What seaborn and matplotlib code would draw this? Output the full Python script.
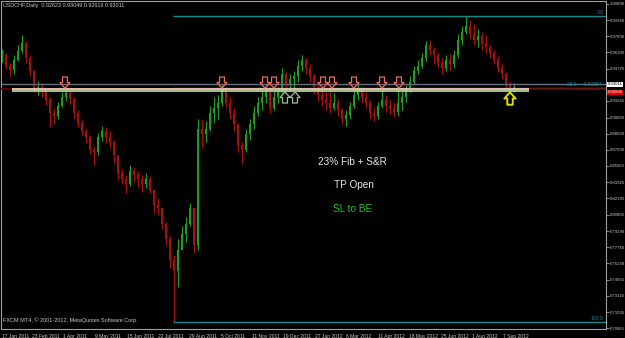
import numpy as np
import pandas as pd
import matplotlib
matplotlib.use("Agg")
import matplotlib.pyplot as plt
import seaborn as sns
from matplotlib.path import Path

# ---------------- data ----------------
first_open = 0.9560
closes = [0.9600, 0.9500, 0.9460, 0.9560, 0.9640, 0.9720, 0.9580, 0.9450, 0.9280, 0.9300,
          0.9280, 0.9180, 0.9050, 0.9020, 0.9120, 0.9200, 0.9240, 0.9190, 0.9050, 0.8960,
          0.8880, 0.8820, 0.8700, 0.8680, 0.8820, 0.8880, 0.8820, 0.8780, 0.8650, 0.8480,
          0.8420, 0.8380, 0.8500, 0.8460, 0.8420, 0.8380, 0.8420, 0.8320, 0.8180, 0.8150,
          0.8000, 0.7850, 0.7650, 0.7550, 0.7750, 0.7900, 0.8000, 0.8150, 0.7800, 0.8900,
          0.8850, 0.8900, 0.9050, 0.9100, 0.9150, 0.9280, 0.9150, 0.9050, 0.8950, 0.8750,
          0.8700, 0.8850, 0.8950, 0.9050, 0.9150, 0.9200, 0.9250, 0.9100, 0.9200, 0.9250,
          0.9420, 0.9330, 0.9380, 0.9400, 0.9500, 0.9560, 0.9480, 0.9400, 0.9300, 0.9220,
          0.9180, 0.9150, 0.9100, 0.9150, 0.9080, 0.9000, 0.9030, 0.9120, 0.9220, 0.9280,
          0.9200, 0.9150, 0.9050, 0.9020, 0.9120, 0.9180, 0.9120, 0.9100, 0.9060, 0.9150,
          0.9200, 0.9280, 0.9350, 0.9450, 0.9500, 0.9580, 0.9700, 0.9650, 0.9600, 0.9530,
          0.9480, 0.9560, 0.9520, 0.9600, 0.9750, 0.9820, 0.9880, 0.9800, 0.9750, 0.9780,
          0.9720, 0.9680, 0.9620, 0.9560, 0.9480, 0.9420, 0.9320, 0.9270, 0.9301]
highs = [0.9660, 0.9620, 0.9530, 0.9600, 0.9700, 0.9790, 0.9740, 0.9600, 0.9460, 0.9360,
         0.9340, 0.9300, 0.9200, 0.9100, 0.9160, 0.9250, 0.9300, 0.9280, 0.9200, 0.9080,
         0.8990, 0.8900, 0.8840, 0.8740, 0.8860, 0.8930, 0.8920, 0.8880, 0.8800, 0.8640,
         0.8520, 0.8460, 0.8560, 0.8540, 0.8500, 0.8460, 0.8480, 0.8450, 0.8290, 0.8240,
         0.8150, 0.8020, 0.7880, 0.7700, 0.7850, 0.7980, 0.8060, 0.8200, 0.8150, 0.9000,
         0.9000, 0.8980, 0.9120, 0.9200, 0.9220, 0.9330, 0.9300, 0.9200, 0.9100, 0.8960,
         0.8780, 0.8900, 0.9000, 0.9120, 0.9200, 0.9260, 0.9320, 0.9300, 0.9270, 0.9300,
         0.9480, 0.9440, 0.9420, 0.9450, 0.9560, 0.9600, 0.9580, 0.9520, 0.9420, 0.9340,
         0.9300, 0.9250, 0.9300, 0.9240, 0.9190, 0.9100, 0.9080, 0.9160, 0.9300, 0.9340,
         0.9300, 0.9250, 0.9180, 0.9100, 0.9160, 0.9270, 0.9220, 0.9180, 0.9150, 0.9300,
         0.9260, 0.9320, 0.9400, 0.9500, 0.9560, 0.9620, 0.9740, 0.9750, 0.9680, 0.9620,
         0.9580, 0.9600, 0.9620, 0.9650, 0.9800, 0.9880, 0.9972, 0.9940, 0.9900, 0.9850,
         0.9820, 0.9790, 0.9700, 0.9650, 0.9590, 0.9520, 0.9440, 0.9350, 0.9340]
lows = [0.9540, 0.9470, 0.9400, 0.9420, 0.9550, 0.9620, 0.9530, 0.9400, 0.9250, 0.9220,
        0.9200, 0.9130, 0.8920, 0.8950, 0.9000, 0.9110, 0.9170, 0.9140, 0.9000, 0.8920,
        0.8840, 0.8770, 0.8660, 0.8560, 0.8650, 0.8790, 0.8770, 0.8720, 0.8580, 0.8420,
        0.8380, 0.8290, 0.8360, 0.8400, 0.8350, 0.8300, 0.8340, 0.8290, 0.8100, 0.8080,
        0.7950, 0.7800, 0.7580, 0.7067, 0.7400, 0.7760, 0.7830, 0.7980, 0.7720, 0.7750,
        0.8720, 0.8780, 0.8880, 0.8960, 0.9000, 0.9120, 0.9100, 0.9000, 0.8880, 0.8680,
        0.8570, 0.8680, 0.8800, 0.8900, 0.9020, 0.9080, 0.9150, 0.9050, 0.9080, 0.9150,
        0.9240, 0.9250, 0.9260, 0.9270, 0.9350, 0.9450, 0.9420, 0.9350, 0.9230, 0.9170,
        0.9120, 0.9080, 0.9050, 0.9080, 0.9020, 0.8950, 0.8930, 0.9000, 0.9100, 0.9180,
        0.9150, 0.9100, 0.9000, 0.8980, 0.9000, 0.9100, 0.9060, 0.9040, 0.9010, 0.9020,
        0.9080, 0.9160, 0.9250, 0.9330, 0.9420, 0.9480, 0.9550, 0.9600, 0.9520, 0.9480,
        0.9420, 0.9450, 0.9460, 0.9480, 0.9580, 0.9700, 0.9800, 0.9760, 0.9700, 0.9680,
        0.9650, 0.9620, 0.9580, 0.9520, 0.9440, 0.9380, 0.9280, 0.9240, 0.9250]

date_labels = ["17 Jan 2011", "23 Feb 2011", "1 Apr 2011", "9 May 2011", "15 Jun 2011",
               "22 Jul 2011", "29 Aug 2011", "5 Oct 2011", "11 Nov 2011", "19 Dec 2011",
               "27 Jan 2012", "6 Mar 2012", "11 Apr 2012", "18 May 2012", "25 Jun 2012",
               "1 Aug 2012", "7 Sep 2012"]
date_ticks = [0, 7.5, 15.25, 23.25, 31.25, 39, 46.75, 54.75, 62.5, 70.25, 78.25, 86,
              94, 101.75, 109.75, 117.5, 125.25]

price_labels = ["1.00890", "0.99360", "0.97830", "0.96300", "0.94725", "0.91665",
                "0.90090", "0.88560", "0.87030", "0.85500", "0.83925", "0.82395",
                "0.80865", "0.79290", "0.77760", "0.76230", "0.74655", "0.73125",
                "0.71595", "0.70065"]

bid_level = 0.9325
bid_text = "0.93011"
red_level = 0.9278
red_text = "0.92800"
sr_top = 0.9278
sr_bottom = 0.9262
sr_start, sr_end = 2.5, 131.75

fib_levels = [0.99708, 0.92854, 0.70665]
fib_names = ["0.0", "23.6", "100.0"]
fib_start = 42.75

down_arrows = [15.75, 55, 65.75, 68, 80.25, 82.5, 88, 95, 99.25]
down_price = 0.9342
up_arrows = [70.75, 73.25]
up_price = 0.9200
yellow_arrows = [127]
yellow_price = 0.9190

title_text = "USDCHF,Daily  0.92623 0.93049 0.92619 0.93011"
copyright_text = "FXCM MT4, \u00a9 2001-2012, MetaQuotes Software Corp."

# ---------------- style ----------------
GREEN = "#1e9e1e"
RED = "#a81010"
FG = "#c8c8c8"
TEAL = "#138a8a"

sns.set_theme(style="dark", rc={
    "axes.facecolor": "black", "figure.facecolor": "black",
    "axes.edgecolor": "#a0a0a0", "axes.grid": False,
    "xtick.color": "#a0a0a0", "ytick.color": "#a0a0a0",
})
plt.rcParams["font.family"] = ["Liberation Sans", "DejaVu Sans"]

fig = plt.figure(figsize=(6.25, 3.38), dpi=100)
ax = fig.add_axes([1 / 625, 1 - 329 / 338, 605 / 625, 328 / 338])

df = pd.DataFrame({"close": closes, "high": highs, "low": lows})
df["open"] = [first_open] + closes[:-1]
df["idx"] = np.arange(len(df))
is_up = df["close"] >= df["open"]
colors = np.where(is_up, GREEN, RED)

ax.vlines(df["idx"], df["low"], df["high"], colors=colors, lw=0.9, zorder=2)
body = (df["close"] - df["open"]).abs().clip(lower=0.0008)
ax.bar(df["idx"], body, bottom=np.minimum(df["open"], df["close"]), width=0.55,
       color=colors, linewidth=0, zorder=2)

XMAX = 151
ax.set_xlim(-0.25, XMAX)
ax.set_ylim(0.69982, 1.01175)

# horizontal lines
ax.hlines(fib_levels, fib_start, XMAX, colors=TEAL, lw=1.0, zorder=3)
ax.hlines(red_level, -0.25, XMAX, colors="#7a0000", lw=1.2, zorder=3)
ax.hlines(bid_level, -0.25, XMAX, colors="#66707e", lw=1.0, zorder=3)
ax.hlines(sr_top, sr_start, sr_end, colors="#f2dccc", lw=1.2, zorder=4)
ax.hlines(sr_bottom, sr_start, sr_end, colors="#bfe3a4", lw=1.2, zorder=4)

# fib labels
ax.text(XMAX - 0.6, fib_levels[0] + 0.0012, fib_names[0], color=TEAL, fontsize=3.6,
        ha="right", va="bottom", zorder=5)
ax.text(XMAX - 0.6, fib_levels[2] + 0.0012, fib_names[2], color=TEAL, fontsize=3.6,
        ha="right", va="bottom", zorder=5)
ax.text(XMAX - 1.0, fib_levels[1] + 0.0012, fib_names[1] + "     " + "%.5f" % fib_levels[1],
        color=TEAL, fontsize=3.6, ha="right", va="bottom", zorder=5)

# arrows
down_path = Path([(-0.22, 0.5), (0.22, 0.5), (0.22, 0.0), (0.45, 0.0), (0.0, -0.5),
                  (-0.45, 0.0), (-0.22, 0.0), (-0.22, 0.5)], closed=True)
up_path = Path([(x, -y) for x, y in down_path.vertices], closed=True)
ax.scatter(down_arrows, [down_price] * len(down_arrows), marker=down_path, s=64,
           facecolors="none", edgecolors="#ec6e5c", linewidths=0.9, zorder=6)
ax.scatter(up_arrows, [up_price] * len(up_arrows), marker=up_path, s=64,
           facecolors="none", edgecolors="#9cbf9c", linewidths=0.9, zorder=6)
ax.scatter(yellow_arrows, [yellow_price] * len(yellow_arrows), marker=up_path, s=80,
           facecolors="none", edgecolors="#dcdc00", linewidths=1.4, zorder=6)

# notes
ax.text(87.5, 0.8591, "23% Fib + S&R", color="#e6e6e6", fontsize=7.2, ha="center", va="center")
ax.text(88.0, 0.8368, "TP Open", color="#e6e6e6", fontsize=7.2, ha="center", va="center")
ax.text(87.75, 0.8139, "SL to BE", color="#22c022", fontsize=7.2, ha="center", va="center")

ax.text(0.004, 0.993, title_text, transform=ax.transAxes, color=FG, fontsize=3.9,
        ha="left", va="top")
ax.text(0.004, 0.018, copyright_text, transform=ax.transAxes, color=FG, fontsize=4.0,
        ha="left", va="bottom")

# axes
ax.yaxis.tick_right()
ax.set_yticks([float(v) for v in price_labels])
ax.set_yticklabels(price_labels)
ax.set_xticks(date_ticks)
ax.set_xticklabels(date_labels, ha="left")
ax.tick_params(axis="y", length=2.0, width=0.6, pad=0.5, labelsize=3.1, labelcolor=FG)
ax.tick_params(axis="x", length=2.5, width=0.6, pad=0.8, labelsize=3.6, labelcolor=FG)
for sp in ax.spines.values():
    sp.set_color("#a0a0a0")
    sp.set_linewidth(0.8)

# price boxes on the right axis
btr = ax.get_yaxis_transform()
ax.annotate(bid_text, xy=(1.0, bid_level), xycoords=btr, xytext=(1.0, 0),
            textcoords="offset points", fontsize=3.1, color="black", va="center",
            ha="left", annotation_clip=False, zorder=10,
            bbox=dict(boxstyle="square,pad=0.12", fc="white", ec="none"))
ax.annotate(red_text, xy=(1.0, red_level - 0.0028), xycoords=btr, xytext=(1.0, 0),
            textcoords="offset points", fontsize=3.1, color="white", va="center",
            ha="left", annotation_clip=False, zorder=10,
            bbox=dict(boxstyle="square,pad=0.12", fc="#e00000", ec="none"))

fig.savefig("out.png", dpi=100, facecolor="black")
